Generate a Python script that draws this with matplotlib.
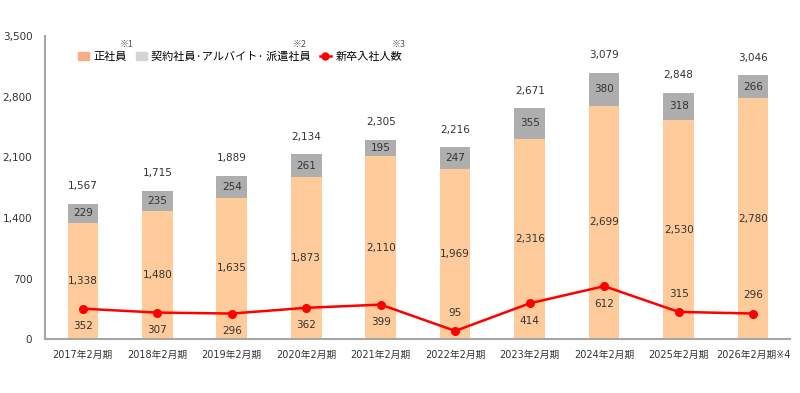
import matplotlib
matplotlib.use("Agg")
import matplotlib.pyplot as plt
from matplotlib.patches import Patch
from matplotlib.lines import Line2D
import numpy as np

plt.rcParams['font.family'] = ['DejaVu Sans', 'Noto Sans CJK JP']

periods = ['2017年2月期', '2018年2月期', '2019年2月期', '2020年2月期', '2021年2月期',
           '2022年2月期', '2023年2月期', '2024年2月期', '2025年2月期', '2026年2月期※4']
regular = [1338, 1480, 1635, 1873, 2110, 1969, 2316, 2699, 2530, 2780]
contract = [229, 235, 254, 261, 195, 247, 355, 380, 318, 266]
totals = [1567, 1715, 1889, 2134, 2305, 2216, 2671, 3079, 2848, 3046]
new_grads = [352, 307, 296, 362, 399, 95, 414, 612, 315, 296]
grad_label_above = [False, False, False, False, False, True, False, False, True, True]
y_ticks = [0, 700, 1400, 2100, 2800, 3500]

ORANGE = '#FFCB9A'
GRAY = '#AEAEAE'
RED = '#FF0000'
TXT = '#333333'

fig = plt.figure(figsize=(8, 3.93), dpi=100)
ax = fig.add_axes([0.056, 0.137, 0.932, 0.771])

x = np.arange(len(periods))
w = 0.41
ax.bar(x, regular, width=w, color=ORANGE, zorder=2)
ax.bar(x, contract, width=w, bottom=regular, color=GRAY, zorder=2)
ax.plot(x, new_grads, color=RED, lw=1.8, marker='o', ms=5.5, zorder=4)

fs = 7.5
for i in x:
    ax.text(i, regular[i] / 2, f"{regular[i]:,}", ha='center', va='center', fontsize=fs, color=TXT, zorder=5)
    ax.text(i, regular[i] + contract[i] / 2, f"{contract[i]:,}", ha='center', va='center', fontsize=fs, color=TXT, zorder=5)
    ax.annotate(f"{totals[i]:,}", xy=(i, totals[i]), xytext=(0, 12.5), textcoords='offset points',
                ha='center', va='center', fontsize=fs, color=TXT)
    dy = 13 if grad_label_above[i] else -12.5
    ax.annotate(f"{new_grads[i]:,}", xy=(i, new_grads[i]), xytext=(0, dy), textcoords='offset points',
                ha='center', va='center', fontsize=fs, color=TXT, zorder=5)

ax.set_xlim(-0.51, 9.5)
ax.set_ylim(0, 3500)
ax.set_yticks(y_ticks)
ax.set_yticklabels([f"{v:,}" for v in y_ticks], fontsize=fs, color=TXT)
ax.set_xticks(x)
ax.set_xticklabels(periods, fontsize=7, color=TXT)
ax.tick_params(length=0, pad=9, axis='y')
ax.tick_params(length=0, pad=8, axis='x')
for s in ['top', 'right']:
    ax.spines[s].set_visible(False)
for s in ['left', 'bottom']:
    ax.spines[s].set_color('#A6A6A6')
    ax.spines[s].set_linewidth(1.5)

handles = [Patch(color='#F6AF84', label='正社員'),
           Patch(color='#D4D4D4', label='契約社員·アルバイト· 派遣社員'),
           Line2D([0], [0], color=RED, lw=1.8, marker='o', ms=5, label='新卒入社人数')]
fig.legend(handles=handles, loc='center left', bbox_to_anchor=(0.085, 0.855), ncol=3, frameon=False,
           handlelength=1.0, handletextpad=0.4, columnspacing=0.8,
           prop={'family': ['Noto Sans CJK JP'], 'size': 8})
for xf, t in [(0.15, '※1'), (0.366, '※2'), (0.49, '※3')]:
    fig.text(xf, 0.881, t, fontsize=6.5, color='#555555', family=['Noto Sans CJK JP'])

fig.savefig('out.png', dpi=100)
